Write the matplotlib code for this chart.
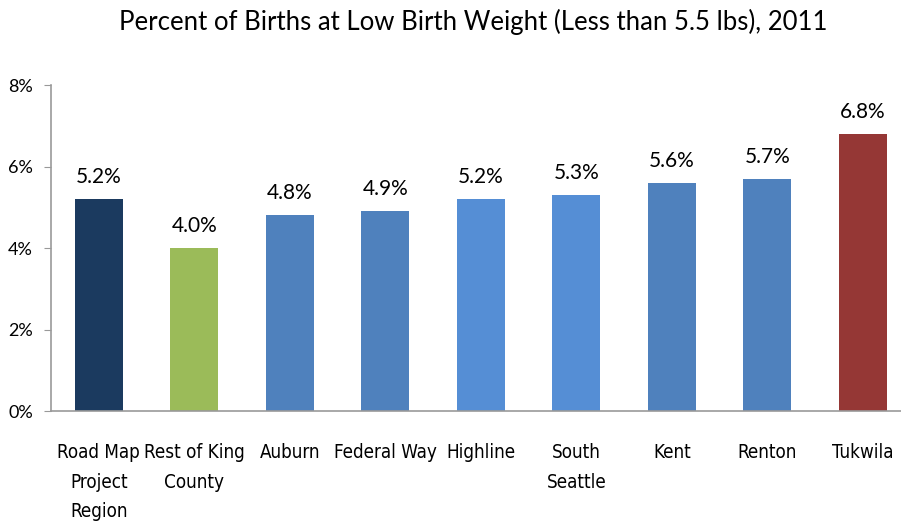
import matplotlib.pyplot as plt
import numpy as np
from matplotlib import font_manager

categories = ["Road Map\nProject\nRegion", "Rest of King\nCounty", "Auburn", "Federal Way",
              "Highline", "South\nSeattle", "Kent", "Renton", "Tukwila"]
values = [5.2, 4.0, 4.8, 4.9, 5.2, 5.3, 5.6, 5.7, 6.8]
colors = ["#1B3A5F", "#9BBB59", "#4F81BD", "#4F81BD", "#558ED5", "#558ED5",
          "#4F81BD", "#4F81BD", "#953735"]
yticks = [0, 2, 4, 6, 8]

# condensed regular face for the category labels, if one is installed
cond = [f for f in font_manager.fontManager.ttflist
        if ("condensed" in str(f.stretch).lower() or "Condensed" in f.fname)
        and f.weight in (400, "normal", "regular", "book") and f.style == "normal"
        and "Bold" not in f.fname]

plt.rcParams["font.family"] = ["Lato", "DejaVu Sans"]

fig = plt.figure(figsize=(9.01, 5.25), dpi=100)
ax = fig.add_axes([0.0566, 0.217, 0.954, 0.621])

x = np.arange(len(values))
ax.bar(x, values, width=0.5, color=colors)
for xi, v in zip(x, values):
    ax.text(xi, v + 0.3, f"{v:.1f}%", ha="center", va="bottom", fontsize=15)

ax.set_xlim(-0.5, len(values) - 0.5)
ax.set_ylim(0, 8)
ax.set_yticks(yticks)
ax.set_yticklabels([f"{t}%" for t in yticks], fontsize=13)
ax.set_xticks(x)
if cond:
    lbl = dict(fontproperties=font_manager.FontProperties(fname=cond[0].fname, size=13.5))
else:
    lbl = dict(fontsize=12)
ax.set_xticklabels(categories, linespacing=1.7, **lbl)
ax.tick_params(axis="x", length=0, pad=23)
ax.tick_params(axis="y", length=5, color="#999999", pad=8)

for s in ["top", "right"]:
    ax.spines[s].set_visible(False)
ax.spines["left"].set_color("#999999")
ax.spines["bottom"].set_color("#999999")
ax.spines["left"].set_linewidth(1.2)
ax.spines["bottom"].set_linewidth(1.2)

fig.text(0.525, 0.958, "Percent of Births at Low Birth Weight (Less than 5.5 lbs), 2011",
         ha="center", va="center", fontsize=18.5)

plt.savefig("out.png", dpi=100)
